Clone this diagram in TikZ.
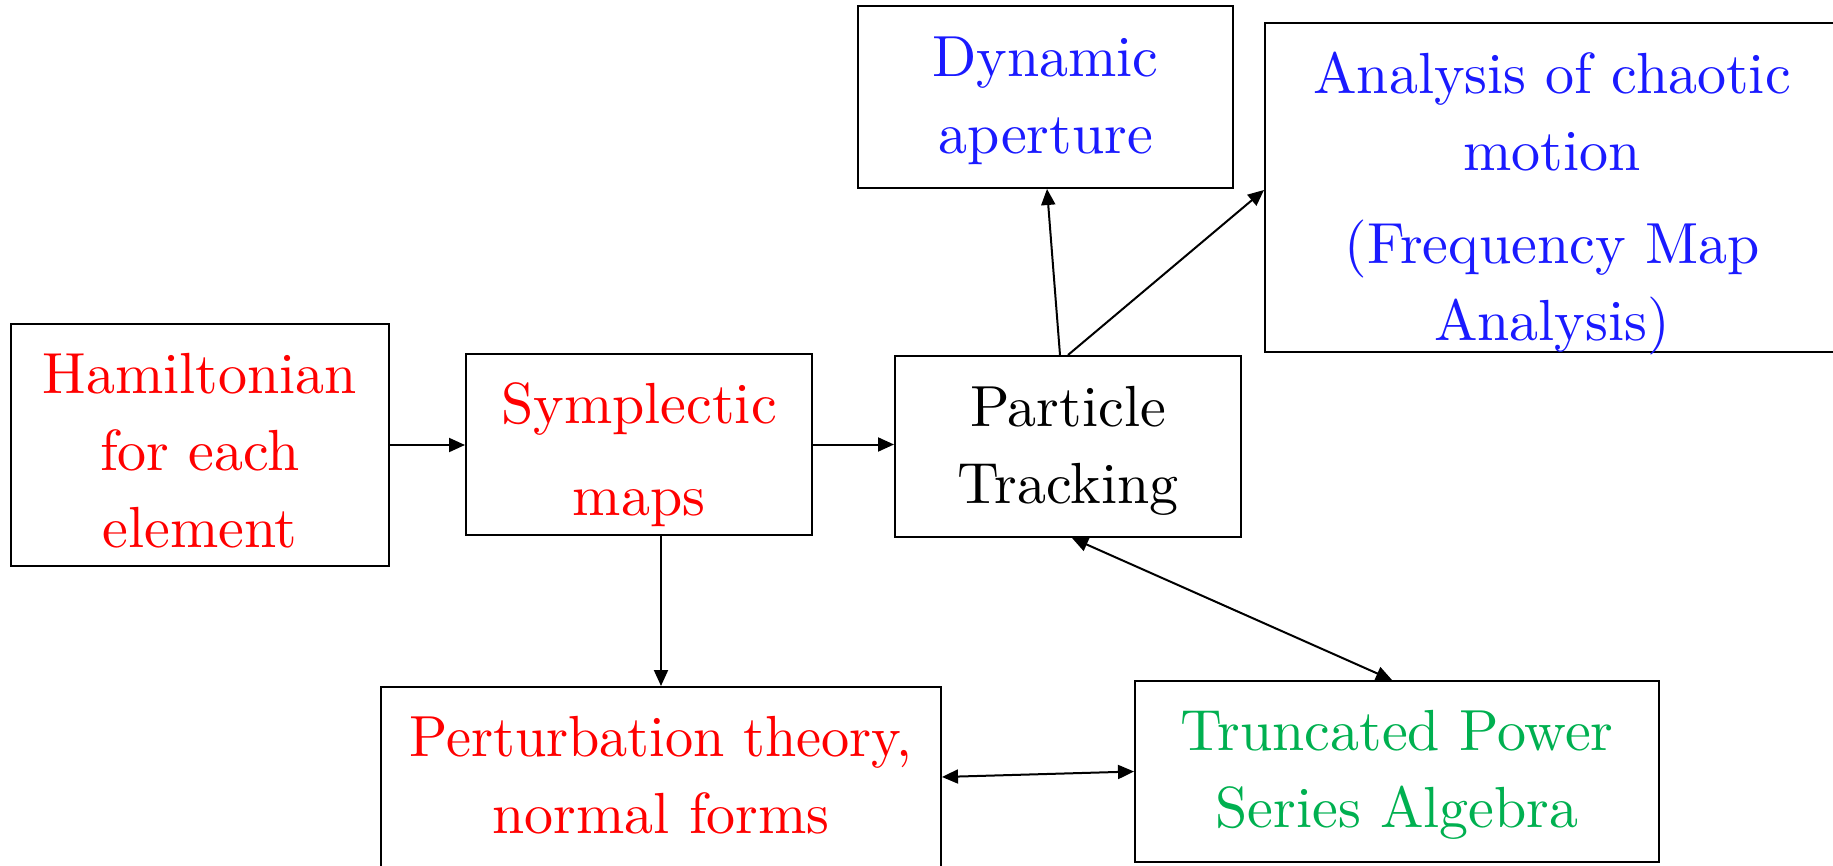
\documentclass[tikz,border=0pt]{standalone}
\usepackage{fontspec}
\setmainfont{lmroman10-regular}[Extension=.otf]
\usetikzlibrary{arrows.meta}
\definecolor{tred}{RGB}{255,0,0}
\definecolor{tblue}{RGB}{26,26,255}
\definecolor{tgreen}{RGB}{0,176,80}
\newcommand\fl{\rule{0pt}{50pt}}
\begin{document}
\begin{tikzpicture}[x=1pt,y=-1pt,
  box/.style={draw=black, line width=2pt, rectangle, inner sep=0pt},
  lbl/.style={inner sep=0pt, anchor=north, align=center, font=\fontsize{58}{77}\selectfont},
  arr/.style={line width=2pt, -{Triangle[length=16pt,width=14pt]}},
  darr/.style={line width=2pt, {Triangle[length=16pt,width=14pt]}-{Triangle[length=16pt,width=14pt]}}]
\useasboundingbox (0,0) rectangle (1833,866);
\clip (0,0) rectangle (1833,866);
% boxes
\node[box, minimum width=378pt, minimum height=242pt] (ham) at (200,445) {};
\node[box, minimum width=346pt, minimum height=181pt] (symp) at (639,444.5) {};
\node[box, minimum width=346pt, minimum height=181pt] (part) at (1068,446.5) {};
\node[box, minimum width=375pt, minimum height=182pt] (dyn) at (1045.5,97) {};
\node[box, minimum width=575pt, minimum height=329pt] (ana) at (1552.5,187.5) {};
\node[box, minimum width=560pt, minimum height=180pt] (pert) at (661,777) {};
\node[box, minimum width=524pt, minimum height=181pt] (trunc) at (1397,771.5) {};
% texts
\node[lbl, text=tred] (hamT) at (200,343) {\fl Hamiltonian\\for each\\element};
\node[lbl, text=tred] (sympT) at (639,373) {\fl Symplectic\\[15pt]maps};
\node[lbl, text=black] (partT) at (1068,376) {\fl Particle\\Tracking};
\node[lbl, text=tblue] (dynT) at (1045.5,26) {\fl Dynamic\\aperture};
\node[lbl, text=tblue] (anaT) at (1552,43) {\fl Analysis of chaotic\\motion\\[16pt](Frequency Map\\Analysis)};
\node[lbl, text=tred] (pertT) at (661,706) {\fl\scalebox{0.97}[1]{Perturbation theory,}\\normal forms};
\node[lbl, text=tgreen] (truncT) at (1397,700) {\fl Truncated Power\\Series Algebra};
% connectors
\draw[arr] (ham.east) -- (ham.east -| symp.west);
\draw[arr] (symp.east) -- (symp.east -| part.west);
\draw[arr] (pert.north |- symp.south) -- (pert.north);
\draw[arr] ([xshift=-8pt]part.north) -- ([xshift=1.5pt]dyn.south);
\draw[arr] (part.north) -- ([yshift=-2.5pt]ana.west);
\draw[darr] ([xshift=4pt]part.south) -- ([xshift=-5pt]trunc.north);
\draw[darr] (pert.east) -- (trunc.west);
\end{tikzpicture}
\end{document}
